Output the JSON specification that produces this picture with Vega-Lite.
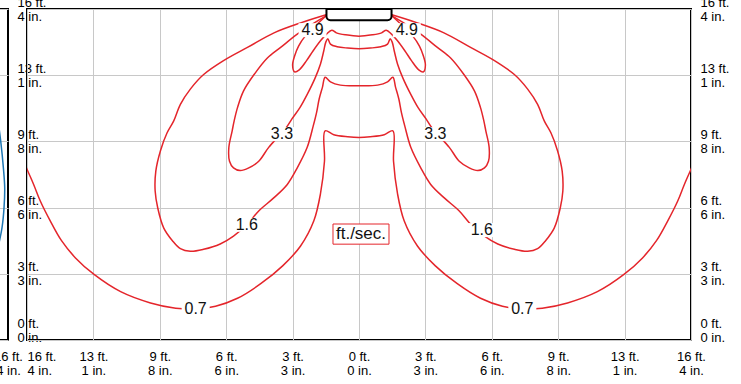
{
  "$schema": "https://vega.github.io/schema/vega-lite/v6.json",
  "autosize": {"type": "pad"},
  "padding": {"left": -59, "top": -5, "right": 0, "bottom": 0},
  "background": "white",
  "bounds": "flush",
  "spacing": 19,
  "config": {
    "view": {"stroke": "black", "strokeWidth": 2},
    "axis": {"domain": false, "ticks": false, "labelFont": "Liberation Sans", "labelFontSize": 13, "labelLineHeight": 14, "labelColor": "#000000", "gridColor": "#c8c8c8", "gridWidth": 1, "labelOverlap": false, "labelFlush": false},
    "text": {"font": "Liberation Sans"}
  },
  "datasets": {
    "contours": [
      {"c":"4.9","i":0,"x":-0.47,"y":4.92},{"c":"4.9","i":1,"x":-0.64,"y":4.76},{"c":"4.9","i":2,"x":-0.81,"y":4.59},{"c":"4.9","i":3,"x":-0.91,"y":4.44},{"c":"4.9","i":4,"x":-0.97,"y":4.29},{"c":"4.9","i":5,"x":-1.0,"y":4.15},{"c":"4.9","i":6,"x":-0.97,"y":4.05},{"c":"4.9","i":7,"x":-0.9,"y":4.08},{"c":"4.9","i":8,"x":-0.79,"y":4.22},{"c":"4.9","i":9,"x":-0.69,"y":4.37},{"c":"4.9","i":10,"x":-0.58,"y":4.52},{"c":"4.9","i":11,"x":-0.49,"y":4.62},{"c":"4.9","i":12,"x":-0.41,"y":4.68},{"c":"4.9","i":13,"x":-0.34,"y":4.64},{"c":"4.9","i":14,"x":-0.2,"y":4.61},{"c":"4.9","i":15,"x":0,"y":4.59},{"c":"4.9","i":16,"x":0.2,"y":4.61},{"c":"4.9","i":17,"x":0.34,"y":4.64},{"c":"4.9","i":18,"x":0.41,"y":4.68},{"c":"4.9","i":19,"x":0.49,"y":4.62},{"c":"4.9","i":20,"x":0.58,"y":4.52},{"c":"4.9","i":21,"x":0.69,"y":4.37},{"c":"4.9","i":22,"x":0.79,"y":4.22},{"c":"4.9","i":23,"x":0.9,"y":4.08},{"c":"4.9","i":24,"x":0.97,"y":4.05},{"c":"4.9","i":25,"x":1.0,"y":4.15},{"c":"4.9","i":26,"x":0.97,"y":4.29},{"c":"4.9","i":27,"x":0.91,"y":4.44},{"c":"4.9","i":28,"x":0.81,"y":4.59},{"c":"4.9","i":29,"x":0.64,"y":4.76},{"c":"4.9","i":30,"x":0.47,"y":4.92},
      {"c":"3.3","i":0,"x":-0.47,"y":4.91},{"c":"3.3","i":1,"x":-0.72,"y":4.76},{"c":"3.3","i":2,"x":-0.93,"y":4.62},{"c":"3.3","i":3,"x":-1.18,"y":4.42},{"c":"3.3","i":4,"x":-1.38,"y":4.26},{"c":"3.3","i":5,"x":-1.58,"y":4.01},{"c":"3.3","i":6,"x":-1.74,"y":3.76},{"c":"3.3","i":7,"x":-1.83,"y":3.51},{"c":"3.3","i":8,"x":-1.88,"y":3.31},{"c":"3.3","i":9,"x":-1.91,"y":3.16},{"c":"3.3","i":10,"x":-1.96,"y":2.91},{"c":"3.3","i":11,"x":-1.95,"y":2.7},{"c":"3.3","i":12,"x":-1.89,"y":2.6},{"c":"3.3","i":13,"x":-1.79,"y":2.56},{"c":"3.3","i":14,"x":-1.66,"y":2.6},{"c":"3.3","i":15,"x":-1.51,"y":2.7},{"c":"3.3","i":16,"x":-1.36,"y":2.91},{"c":"3.3","i":17,"x":-1.18,"y":3.11},{"c":"3.3","i":18,"x":-1.08,"y":3.23},{"c":"3.3","i":19,"x":-1.01,"y":3.34},{"c":"3.3","i":20,"x":-0.89,"y":3.51},{"c":"3.3","i":21,"x":-0.78,"y":3.71},{"c":"3.3","i":22,"x":-0.66,"y":3.96},{"c":"3.3","i":23,"x":-0.58,"y":4.17},{"c":"3.3","i":24,"x":-0.53,"y":4.37},{"c":"3.3","i":25,"x":-0.5,"y":4.5},{"c":"3.3","i":26,"x":-0.47,"y":4.55},{"c":"3.3","i":27,"x":-0.43,"y":4.47},{"c":"3.3","i":28,"x":-0.33,"y":4.43},{"c":"3.3","i":29,"x":-0.17,"y":4.41},{"c":"3.3","i":30,"x":0,"y":4.4},{"c":"3.3","i":31,"x":0.17,"y":4.41},{"c":"3.3","i":32,"x":0.33,"y":4.43},{"c":"3.3","i":33,"x":0.43,"y":4.47},{"c":"3.3","i":34,"x":0.47,"y":4.55},{"c":"3.3","i":35,"x":0.5,"y":4.5},{"c":"3.3","i":36,"x":0.53,"y":4.37},{"c":"3.3","i":37,"x":0.58,"y":4.17},{"c":"3.3","i":38,"x":0.66,"y":3.96},{"c":"3.3","i":39,"x":0.78,"y":3.71},{"c":"3.3","i":40,"x":0.89,"y":3.51},{"c":"3.3","i":41,"x":1.01,"y":3.34},{"c":"3.3","i":42,"x":1.08,"y":3.23},{"c":"3.3","i":43,"x":1.18,"y":3.11},{"c":"3.3","i":44,"x":1.36,"y":2.91},{"c":"3.3","i":45,"x":1.51,"y":2.7},{"c":"3.3","i":46,"x":1.66,"y":2.6},{"c":"3.3","i":47,"x":1.79,"y":2.56},{"c":"3.3","i":48,"x":1.89,"y":2.6},{"c":"3.3","i":49,"x":1.95,"y":2.7},{"c":"3.3","i":50,"x":1.96,"y":2.91},{"c":"3.3","i":51,"x":1.91,"y":3.16},{"c":"3.3","i":52,"x":1.88,"y":3.31},{"c":"3.3","i":53,"x":1.83,"y":3.51},{"c":"3.3","i":54,"x":1.74,"y":3.76},{"c":"3.3","i":55,"x":1.58,"y":4.01},{"c":"3.3","i":56,"x":1.38,"y":4.26},{"c":"3.3","i":57,"x":1.18,"y":4.42},{"c":"3.3","i":58,"x":0.93,"y":4.62},{"c":"3.3","i":59,"x":0.72,"y":4.76},{"c":"3.3","i":60,"x":0.47,"y":4.91},
      {"c":"1.6","i":0,"x":-0.47,"y":4.92},{"c":"1.6","i":1,"x":-0.88,"y":4.79},{"c":"1.6","i":2,"x":-1.28,"y":4.64},{"c":"1.6","i":3,"x":-1.68,"y":4.42},{"c":"1.6","i":4,"x":-2.04,"y":4.22},{"c":"1.6","i":5,"x":-2.34,"y":4.01},{"c":"1.6","i":6,"x":-2.54,"y":3.79},{"c":"1.6","i":7,"x":-2.69,"y":3.56},{"c":"1.6","i":8,"x":-2.79,"y":3.31},{"c":"1.6","i":9,"x":-2.89,"y":3.13},{"c":"1.6","i":10,"x":-2.99,"y":2.86},{"c":"1.6","i":11,"x":-3.06,"y":2.55},{"c":"1.6","i":12,"x":-3.07,"y":2.25},{"c":"1.6","i":13,"x":-3.03,"y":1.99},{"c":"1.6","i":14,"x":-2.94,"y":1.69},{"c":"1.6","i":15,"x":-2.81,"y":1.5},{"c":"1.6","i":16,"x":-2.69,"y":1.38},{"c":"1.6","i":17,"x":-2.54,"y":1.34},{"c":"1.6","i":18,"x":-2.34,"y":1.37},{"c":"1.6","i":19,"x":-2.09,"y":1.45},{"c":"1.6","i":20,"x":-1.89,"y":1.57},{"c":"1.6","i":21,"x":-1.69,"y":1.74},{"c":"1.6","i":22,"x":-1.51,"y":1.95},{"c":"1.6","i":23,"x":-1.28,"y":2.15},{"c":"1.6","i":24,"x":-1.08,"y":2.35},{"c":"1.6","i":25,"x":-0.93,"y":2.6},{"c":"1.6","i":26,"x":-0.78,"y":2.91},{"c":"1.6","i":27,"x":-0.69,"y":3.23},{"c":"1.6","i":28,"x":-0.64,"y":3.43},{"c":"1.6","i":29,"x":-0.6,"y":3.64},{"c":"1.6","i":30,"x":-0.55,"y":3.82},{"c":"1.6","i":31,"x":-0.51,"y":3.97},{"c":"1.6","i":32,"x":-0.43,"y":3.9},{"c":"1.6","i":33,"x":-0.28,"y":3.85},{"c":"1.6","i":34,"x":0,"y":3.84},{"c":"1.6","i":35,"x":0.28,"y":3.85},{"c":"1.6","i":36,"x":0.43,"y":3.9},{"c":"1.6","i":37,"x":0.51,"y":3.97},{"c":"1.6","i":38,"x":0.55,"y":3.82},{"c":"1.6","i":39,"x":0.6,"y":3.64},{"c":"1.6","i":40,"x":0.64,"y":3.43},{"c":"1.6","i":41,"x":0.69,"y":3.23},{"c":"1.6","i":42,"x":0.78,"y":2.91},{"c":"1.6","i":43,"x":0.93,"y":2.6},{"c":"1.6","i":44,"x":1.08,"y":2.35},{"c":"1.6","i":45,"x":1.28,"y":2.15},{"c":"1.6","i":46,"x":1.51,"y":1.95},{"c":"1.6","i":47,"x":1.69,"y":1.74},{"c":"1.6","i":48,"x":1.89,"y":1.57},{"c":"1.6","i":49,"x":2.09,"y":1.45},{"c":"1.6","i":50,"x":2.34,"y":1.37},{"c":"1.6","i":51,"x":2.54,"y":1.34},{"c":"1.6","i":52,"x":2.69,"y":1.38},{"c":"1.6","i":53,"x":2.81,"y":1.5},{"c":"1.6","i":54,"x":2.94,"y":1.69},{"c":"1.6","i":55,"x":3.03,"y":1.99},{"c":"1.6","i":56,"x":3.07,"y":2.25},{"c":"1.6","i":57,"x":3.06,"y":2.55},{"c":"1.6","i":58,"x":2.99,"y":2.86},{"c":"1.6","i":59,"x":2.89,"y":3.13},{"c":"1.6","i":60,"x":2.79,"y":3.31},{"c":"1.6","i":61,"x":2.69,"y":3.56},{"c":"1.6","i":62,"x":2.54,"y":3.79},{"c":"1.6","i":63,"x":2.34,"y":4.01},{"c":"1.6","i":64,"x":2.04,"y":4.22},{"c":"1.6","i":65,"x":1.68,"y":4.42},{"c":"1.6","i":66,"x":1.28,"y":4.64},{"c":"1.6","i":67,"x":0.88,"y":4.79},{"c":"1.6","i":68,"x":0.47,"y":4.92},
      {"c":"0.7","i":0,"x":-5.19,"y":3.04},{"c":"0.7","i":1,"x":-5.0,"y":2.58},{"c":"0.7","i":2,"x":-4.9,"y":2.35},{"c":"0.7","i":3,"x":-4.8,"y":2.1},{"c":"0.7","i":4,"x":-4.65,"y":1.8},{"c":"0.7","i":5,"x":-4.48,"y":1.5},{"c":"0.7","i":6,"x":-4.27,"y":1.24},{"c":"0.7","i":7,"x":-3.99,"y":0.99},{"c":"0.7","i":8,"x":-3.59,"y":0.73},{"c":"0.7","i":9,"x":-3.14,"y":0.56},{"c":"0.7","i":10,"x":-2.76,"y":0.48},{"c":"0.7","i":11,"x":-2.46,"y":0.47},{"c":"0.7","i":12,"x":-2.16,"y":0.51},{"c":"0.7","i":13,"x":-1.83,"y":0.63},{"c":"0.7","i":14,"x":-1.48,"y":0.85},{"c":"0.7","i":15,"x":-1.15,"y":1.12},{"c":"0.7","i":16,"x":-0.88,"y":1.42},{"c":"0.7","i":17,"x":-0.68,"y":1.8},{"c":"0.7","i":18,"x":-0.58,"y":2.21},{"c":"0.7","i":19,"x":-0.52,"y":2.7},{"c":"0.7","i":20,"x":-0.51,"y":3.16},{"c":"0.7","i":21,"x":-0.38,"y":3.1},{"c":"0.7","i":22,"x":-0.17,"y":3.07},{"c":"0.7","i":23,"x":0,"y":3.06},{"c":"0.7","i":24,"x":0.17,"y":3.07},{"c":"0.7","i":25,"x":0.38,"y":3.1},{"c":"0.7","i":26,"x":0.51,"y":3.16},{"c":"0.7","i":27,"x":0.52,"y":2.7},{"c":"0.7","i":28,"x":0.58,"y":2.21},{"c":"0.7","i":29,"x":0.68,"y":1.8},{"c":"0.7","i":30,"x":0.88,"y":1.42},{"c":"0.7","i":31,"x":1.15,"y":1.12},{"c":"0.7","i":32,"x":1.48,"y":0.85},{"c":"0.7","i":33,"x":1.83,"y":0.63},{"c":"0.7","i":34,"x":2.16,"y":0.51},{"c":"0.7","i":35,"x":2.46,"y":0.47},{"c":"0.7","i":36,"x":2.76,"y":0.48},{"c":"0.7","i":37,"x":3.14,"y":0.56},{"c":"0.7","i":38,"x":3.59,"y":0.73},{"c":"0.7","i":39,"x":3.99,"y":0.99},{"c":"0.7","i":40,"x":4.27,"y":1.24},{"c":"0.7","i":41,"x":4.48,"y":1.5},{"c":"0.7","i":42,"x":4.65,"y":1.8},{"c":"0.7","i":43,"x":4.8,"y":2.1},{"c":"0.7","i":44,"x":4.9,"y":2.35},{"c":"0.7","i":45,"x":5.0,"y":2.58},{"c":"0.7","i":46,"x":5.19,"y":3.04}
    ],
    "labels": [
      {"x":-0.7,"y":4.68,"label":"4.9"},{"x":0.72,"y":4.68,"label":"4.9"},
      {"x":-1.16,"y":3.11,"label":"3.3"},{"x":1.15,"y":3.11,"label":"3.3"},
      {"x":-1.69,"y":1.74,"label":"1.6"},{"x":1.85,"y":1.66,"label":"1.6"},
      {"x":-2.46,"y":0.47,"label":"0.7"},{"x":2.46,"y":0.47,"label":"0.7"}
    ],
    "unit": [{"x":0.03,"y":1.6,"label":"ft./sec."}],
    "diffuser": [{"x":-0.49,"x2":0.49,"y":4.83,"y2":5.0}],
    "fragment": [
      {"i":0,"x":4.85,"y":3.3},{"i":1,"x":4.89,"y":3.0},{"i":2,"x":4.93,"y":2.6},{"i":3,"x":4.95,"y":2.3},{"i":4,"x":4.94,"y":2.0},{"i":5,"x":4.91,"y":1.7},{"i":6,"x":4.86,"y":1.45}
    ]
  },
  "hconcat": [
    {
      "width": 66,
      "height": 331,
      "data": {"name": "fragment"},
      "mark": {"type": "line", "color": "#1f77b4", "strokeWidth": 1.5, "interpolate": "catmull-rom", "clip": true},
      "encoding": {
        "x": {"field": "x", "type": "quantitative", "scale": {"domain": [4, 5], "nice": false, "zero": false},
          "axis": {"orient": "bottom", "title": null, "values": [5], "grid": false, "labelPadding": 10, "labelBaseline": "top", "labelAlign": "center",
            "labelExpr": "[['0 ft.','3 ft.','6 ft.','9 ft.','13 ft.','16 ft.'][abs(datum.value)], ['0 in.','3 in.','6 in.','8 in.','1 in.','4 in.'][abs(datum.value)]]"}},
        "y": {"field": "y", "type": "quantitative", "scale": {"domain": [0, 5], "nice": false, "zero": false},
          "axis": {"orient": "right", "title": null, "values": [0, 1, 2, 3, 4, 5], "grid": true, "labelPadding": 9, "labelAlign": "left", "labelBaseline": "middle",
            "labelOffset": {"condition": {"test": "datum.value == 0", "value": -17}, "value": -7},
            "labelExpr": "[['0 ft.','3 ft.','6 ft.','9 ft.','13 ft.','16 ft.'][abs(datum.value)], ['0 in.','3 in.','6 in.','8 in.','1 in.','4 in.'][abs(datum.value)]]"}},
        "order": {"field": "i", "type": "quantitative"}
      }
    },
    {
      "width": 664,
      "height": 331,
      "encoding": {
        "x": {"field": "x", "type": "quantitative", "scale": {"domain": [-5, 5], "nice": false, "zero": false},
          "axis": {"orient": "bottom", "title": null, "values": [-5, -4, -3, -2, -1, 0, 1, 2, 3, 4, 5], "grid": true, "labelPadding": 10, "labelBaseline": "top",
            "labelAlign": {"condition": {"test": "datum.value == -5", "value": "left"}, "value": "center"},
            "labelExpr": "[['0 ft.','3 ft.','6 ft.','9 ft.','13 ft.','16 ft.'][abs(datum.value)], ['0 in.','3 in.','6 in.','8 in.','1 in.','4 in.'][abs(datum.value)]]"}},
        "y": {"field": "y", "type": "quantitative", "scale": {"domain": [0, 5], "nice": false, "zero": false},
          "axis": {"orient": "right", "title": null, "values": [0, 1, 2, 3, 4, 5], "grid": true, "labelPadding": 9, "labelAlign": "left", "labelBaseline": "middle",
            "labelOffset": {"condition": {"test": "datum.value == 0", "value": -17}, "value": -7},
            "labelExpr": "[['0 ft.','3 ft.','6 ft.','9 ft.','13 ft.','16 ft.'][abs(datum.value)], ['0 in.','3 in.','6 in.','8 in.','1 in.','4 in.'][abs(datum.value)]]"}}
      },
      "layer": [
        {
          "data": {"name": "contours"},
          "mark": {"type": "line", "color": "#e4252b", "strokeWidth": 1.5, "interpolate": "catmull-rom", "clip": true},
          "encoding": {"detail": {"field": "c", "type": "nominal"}, "order": {"field": "i", "type": "quantitative"}}
        },
        {
          "data": {"name": "labels"},
          "mark": {"type": "point", "shape": "M-1,-0.5L1,-0.5L1,0.5L-1,0.5Z", "size": 784, "filled": true, "color": "white", "opacity": 1, "strokeWidth": 0}
        },
        {
          "data": {"name": "labels"},
          "mark": {"type": "text", "fontSize": 16, "color": "#111111", "align": "center", "baseline": "middle"},
          "encoding": {"text": {"field": "label", "type": "nominal"}}
        },
        {
          "data": {"name": "unit"},
          "mark": {"type": "point", "shape": "M-1,-0.36L1,-0.36L1,0.36L-1,0.36Z", "size": 3136, "filled": false, "fill": "white", "fillOpacity": 1, "stroke": "#e4252b", "strokeWidth": 1, "opacity": 1}
        },
        {
          "data": {"name": "unit"},
          "mark": {"type": "text", "fontSize": 17, "color": "#111111", "align": "center", "baseline": "middle"},
          "encoding": {"text": {"field": "label", "type": "nominal"}}
        },
        {
          "data": {"name": "diffuser"},
          "mark": {"type": "rect", "fill": "white", "stroke": "black", "strokeWidth": 2, "cornerRadiusBottomLeft": 4, "cornerRadiusBottomRight": 4},
          "encoding": {"x2": {"field": "x2"}, "y2": {"field": "y2"}}
        }
      ]
    }
  ]
}
